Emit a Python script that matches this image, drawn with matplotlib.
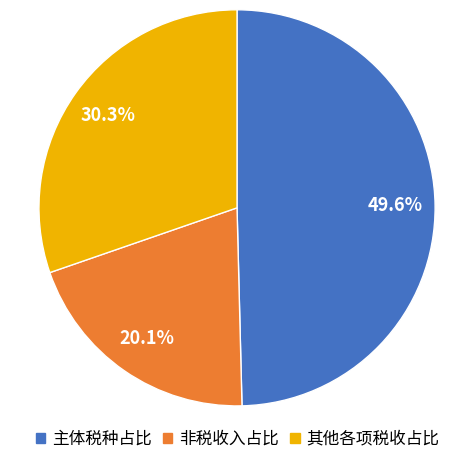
import matplotlib
matplotlib.use("Agg")
import matplotlib.pyplot as plt
from matplotlib.patches import Patch

plt.rcParams['font.family'] = ['Noto Sans CJK SC', 'DejaVu Sans']

labels = ['主体税种占比', '非税收入占比', '其他各项税收占比']
values = [49.6, 20.1, 30.3]
colors = ['#4472C4', '#ED7D31', '#F0B400']

fig = plt.figure(figsize=(4.75, 4.65), dpi=100)
ax = fig.add_axes([0.082, 0.127, 0.834, 0.852])
wedges, texts, autotexts = ax.pie(values, colors=colors, startangle=90, counterclock=False,
                                  autopct='%.1f%%', pctdistance=0.8,
                                  wedgeprops=dict(edgecolor='white', linewidth=1),
                                  textprops=dict(color='white', fontsize=13, fontweight='bold'))
ax.set_xlim(-1, 1)
ax.set_ylim(-1, 1)
ax.set_aspect('equal')
handles = [Patch(color=c, label=l) for c, l in zip(colors, labels)]
fig.legend(handles=handles, loc='lower center', bbox_to_anchor=(0.5, 0.005), ncol=3,
           frameon=False, fontsize=12, handlelength=0.55, handleheight=0.55,
           handletextpad=0.4, columnspacing=0.7)
fig.savefig('out.png', dpi=100)
